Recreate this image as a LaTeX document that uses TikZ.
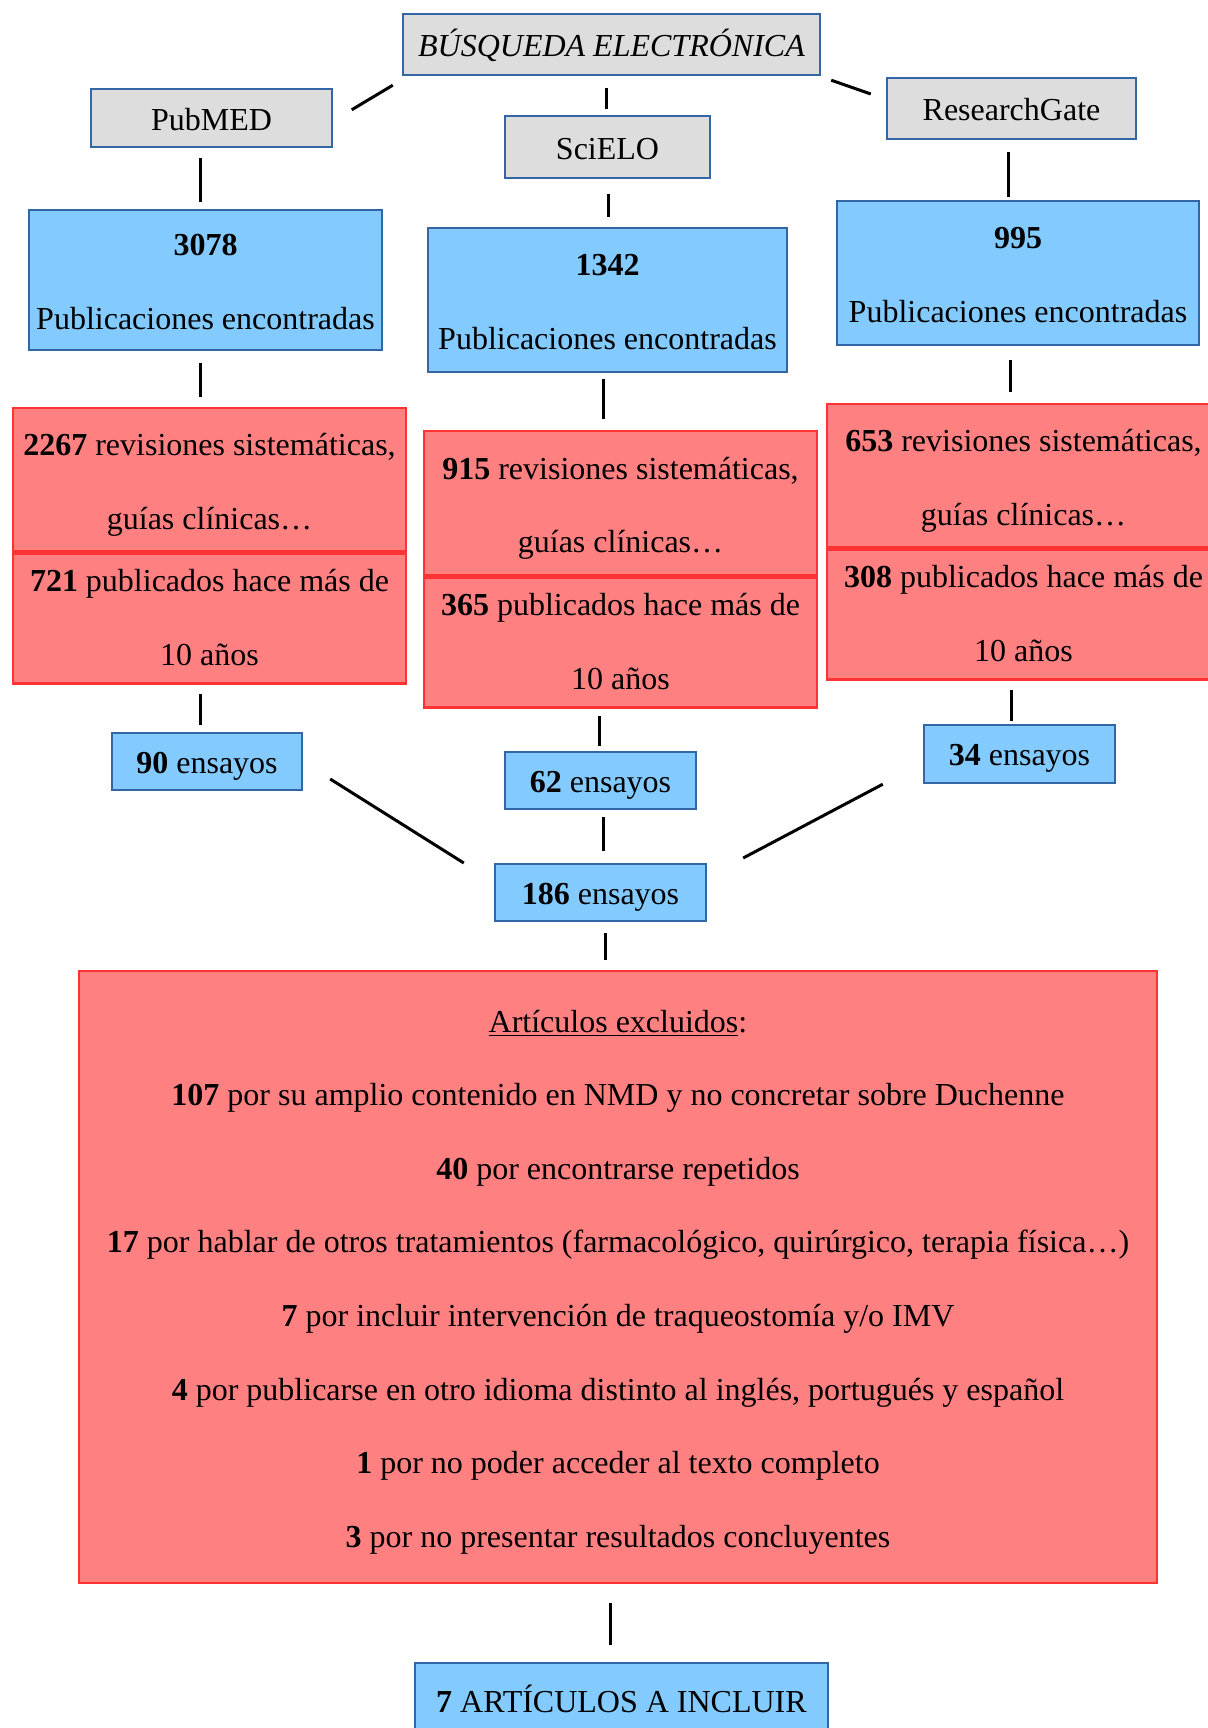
\documentclass[tikz,border=0pt]{standalone}
\usepackage{fontspec}
\setmainfont{Liberation Serif}
\usepackage{tikz}
\usetikzlibrary{calc}
\definecolor{lineblue}{HTML}{3465A4}
\definecolor{linered}{HTML}{FF3333}
\definecolor{boxgrey}{HTML}{DDDDDD}
\definecolor{boxblue}{HTML}{83CAFF}
\definecolor{boxred}{HTML}{FF8080}
\newcommand{\tstrut}[1]{\rule{0pt}{#1}}
\newcommand{\bstrut}[1]{\rule[-#1]{0pt}{0pt}}

\begin{document}
\begin{tikzpicture}[x=0.5pt,y=-0.5pt,
    every node/.style={font=\fontsize{16}{36.8}\selectfont, align=center, inner sep=2pt},
    greybox/.style={draw=lineblue, fill=boxgrey, line width=1.2pt, rectangle, text height=15.5pt, text depth=3pt},
    bluebox/.style={draw=lineblue, fill=boxblue, line width=1.2pt, rectangle},
    oneline/.style={text height=15.2pt, text depth=3.5pt},
    redbox/.style={draw=linered, fill=boxred, line width=1.2pt, rectangle, minimum width=196.5pt},
    link/.style={line width=1.5pt}]

  % page frame
  \useasboundingbox (0,0) rectangle (1208,1728);
  \fill[white] (0,0) rectangle (1208,1728);

  % draw search and data bases
  \node (S) at (611.5,44.5) [greybox, minimum width=208.5pt, minimum height=30.5pt] {\itshape BÚSQUEDA ELECTRÓNICA};
  \node (PM) at (211.5,118) [greybox, minimum width=120.5pt, minimum height=29pt] {PubMED};
  \node (SC) at (607.5,147) [greybox, minimum width=102.5pt, minimum height=31pt] {SciELO};
  \node (RG) at (1011.5,108.5) [greybox, minimum width=124.5pt, minimum height=30.5pt] {ResearchGate};

  % draw publications found
  \node (PMfound) at (205.5,280) [bluebox, minimum width=176.5pt, minimum height=70pt] {\tstrut{16.5pt}\textbf{3078}\\Publicaciones encontradas\bstrut{4pt}};
  \node (SCfound) at (607.5,300) [bluebox, minimum width=179.5pt, minimum height=72pt] {\tstrut{16.5pt}\textbf{1342}\\Publicaciones encontradas\bstrut{4pt}};
  \node (RGfound) at (1018,273) [bluebox, minimum width=181pt, minimum height=72pt] {\tstrut{16.5pt}\textbf{995}\\Publicaciones encontradas\bstrut{4pt}};

  % draw reviews and old papers
  \node (PMrev) at (209.5,479.5) [redbox, minimum height=71.5pt] {\tstrut{17pt}\textbf{2267} revisiones sistemáticas,\\guías clínicas…\bstrut{4pt}};
  \node (PMold) at (PMrev.south) [redbox, anchor=north, minimum height=65pt] {\tstrut{14pt}\textbf{721} publicados hace más de\\10 años\bstrut{4pt}};
  \node (SCrev) at (620.5,503) [redbox, minimum height=72pt] {\tstrut{17pt}\textbf{915} revisiones sistemáticas,\\guías clínicas…\bstrut{4pt}};
  \node (SCold) at (SCrev.south) [redbox, anchor=north, minimum height=65pt] {\tstrut{14pt}\textbf{365} publicados hace más de\\10 años\bstrut{4pt}};
  \node (RGrev) at (1023.5,475.5) [redbox, minimum height=71.5pt] {\tstrut{17pt}\textbf{653} revisiones sistemáticas,\\guías clínicas…\bstrut{4pt}};
  \node (RGold) at (RGrev.south) [redbox, anchor=north, minimum height=65pt] {\tstrut{14pt}\textbf{308} publicados hace más de\\10 años\bstrut{4pt}};

  % draw trials
  \node (PMtrial) at (207,761.5) [bluebox, oneline, minimum width=95pt, minimum height=28.5pt] {\textbf{90} ensayos};
  \node (SCtrial) at (600.5,780.5) [bluebox, oneline, minimum width=95.5pt, minimum height=28.5pt] {\textbf{62} ensayos};
  \node (RGtrial) at (1019.5,754) [bluebox, oneline, minimum width=95.5pt, minimum height=29pt] {\textbf{34} ensayos};
  \node (total) at (600.5,892.5) [bluebox, oneline, minimum width=105.5pt, minimum height=28.5pt] {\textbf{186} ensayos};

  % draw excluded and included
  \node (excl) at (618,1277) [redbox, minimum width=539pt, minimum height=306pt] {\tstrut{16.6pt}\underline{Artículos excluidos}:\\
    \textbf{107} por su amplio contenido en NMD y no concretar sobre Duchenne\\
    \textbf{40} por encontrarse repetidos\\
    \textbf{17} por hablar de otros tratamientos (farmacológico, quirúrgico, terapia física…)\\
    \textbf{7} por incluir intervención de traqueostomía y/o IMV\\
    \textbf{4} por publicarse en otro idioma distinto al inglés, portugués y español\\
    \textbf{1} por no poder acceder al texto completo\\
    \textbf{3} por no presentar resultados concluyentes\bstrut{4pt}};
  \node (incl) at (621.5,1701) [bluebox, oneline, minimum width=206.5pt, minimum height=38pt] {\textbf{7} ARTÍCULOS A INCLUIR};

  % draw connection lines
  \draw[link] ($(S.south west)+(-9,9)$) -- ($(PM.north east)+(18.5,22)$);
  \draw[link] ($(S.south)+(-5.5,12)$) -- ($(SC.north)+(-1.5,-6)$);
  \draw[link] ($(S.south east)+(10,4)$) -- ($(RG.west)+(-15,-14.5)$);

  \draw[link] ($(PM.south)+(-11.5,10)$) -- ($(PMfound.north)+(-5.5,-7)$);
  \draw[link] ($(SC.south)+(0.5,15)$) -- ($(SCfound.north)+(0.5,-10)$);
  \draw[link] ($(RG.south)+(-3.5,12)$) -- ($(RGfound.north)+(-10,-3)$);

  \draw[link] ($(PMfound.south)+(-5.5,12)$) -- ($(PMrev.north)+(-9.5,-10)$);
  \draw[link] ($(SCfound.south)+(-4.5,6)$) -- ($(SCrev.north)+(-17.5,-11)$);
  \draw[link] ($(RGfound.south)+(-8,14)$) -- ($(RGrev.north)+(-13.5,-11)$);

  \draw[link] ($(PMold.south)+(-9.5,9)$) -- ($(PMtrial.north)+(-7,-7)$);
  \draw[link] ($(SCold.south)+(-21.5,7)$) -- ($(SCtrial.north)+(-1.5,-5)$);
  \draw[link] ($(RGold.south)+(-12,9)$) -- ($(RGtrial.north)+(-8,-3)$);

  \draw[link] ($(PMtrial.east)+(27,17.5)$) -- ($(total.west)+(-30,-29.5)$);
  \draw[link] ($(SCtrial.south)+(2.5,7)$) -- ($(total.north)+(2.5,-12)$);
  \draw[link] ($(RGtrial.south west)+(-40,0)$) -- ($(total.east)+(36,-34.5)$);

  \draw[link] ($(total.south)+(5,11)$) -- ($(excl.north)+(-12.5,-10)$);
  \draw[link] ($(excl.south)+(-8,19)$) -- ($(incl.north)+(-11.5,-17)$);

\end{tikzpicture}
\end{document}
